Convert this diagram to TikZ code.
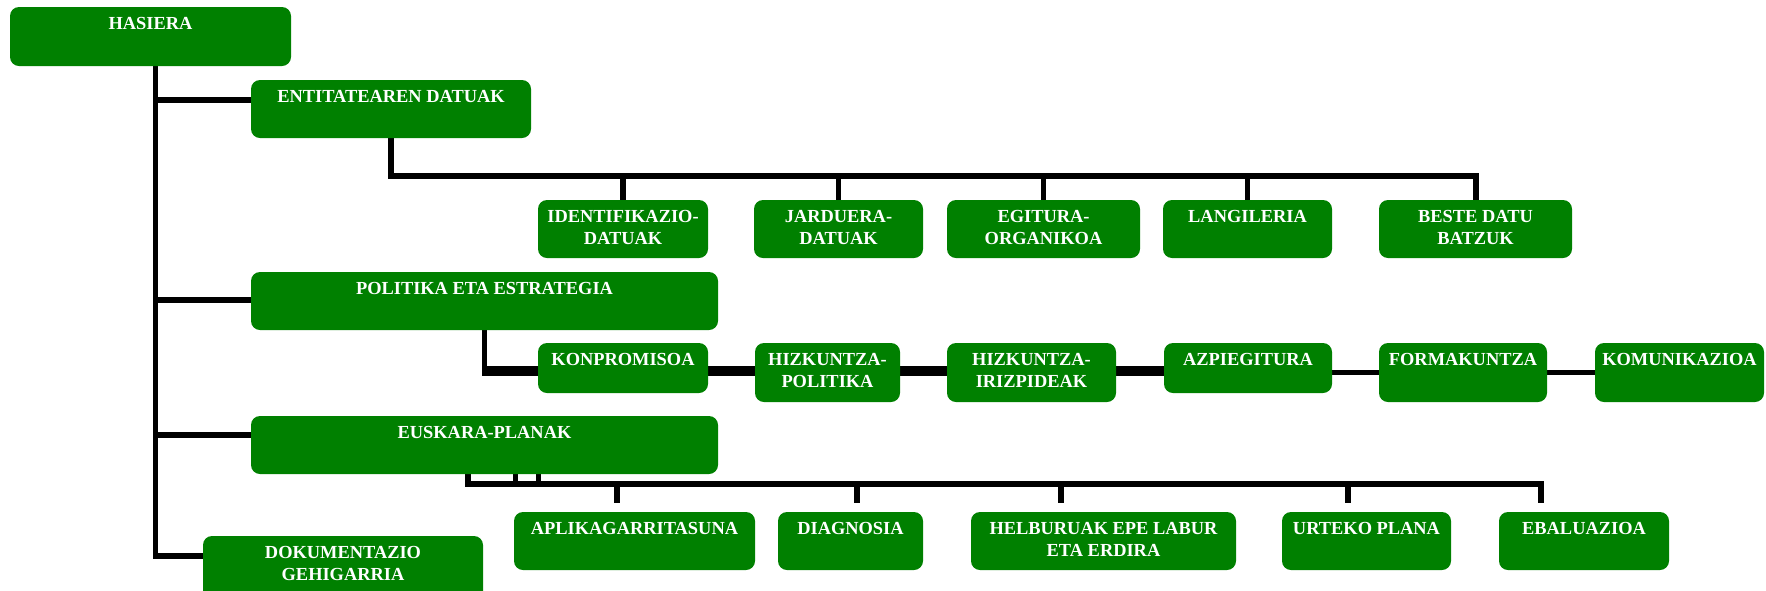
\documentclass[tikz,border=0pt]{standalone}
\usepackage{fontspec}
\setmainfont{Liberation Serif}
\usetikzlibrary{fit,backgrounds}
\definecolor{boxgreen}{RGB}{0,128,0}
\newcommand\mkbox[6]{%
  \node[box, fit={(#2,#3) (#4,#5)}] (#1) {};
  \node[lbl] (#1t) at ([yshift=-5pt]#1.north) {#6};}
\begin{document}
\begin{tikzpicture}[x=0.5pt,y=-0.5pt,
  box/.style={rectangle, draw=none, fill=boxgreen, rounded corners=4.5pt, inner sep=0pt},
  lbl/.style={text=white, font=\bfseries\fontsize{9.2}{11}\selectfont, align=center, inner sep=0pt, anchor=north},
  conn/.style={draw=black, line width=2.6pt, line join=miter}
]
\useasboundingbox (0,0) rectangle (1766,590);

\mkbox{hasiera}{10}{7}{291}{66}{HASIERA}
\mkbox{ent}{251}{80}{531}{138}{ENTITATEAREN DATUAK}
\mkbox{ident}{538}{200}{708}{258}{IDENTIFIKAZIO-\\DATUAK}
\mkbox{jard}{754}{200}{923}{258}{JARDUERA-\\DATUAK}
\mkbox{egit}{947}{200}{1140}{258}{EGITURA-\\ORGANIKOA}
\mkbox{lang}{1163}{200}{1332}{258}{LANGILERIA}
\mkbox{beste}{1379}{200}{1572}{258}{BESTE DATU\\BATZUK}
\mkbox{pol}{251}{272}{718}{330}{POLITIKA ETA ESTRATEGIA}
\mkbox{konp}{538}{343}{708}{393}{KONPROMISOA}
\mkbox{hizpol}{755}{343}{900}{402}{HIZKUNTZA-\\POLITIKA}
\mkbox{hiziriz}{947}{343}{1116}{402}{HIZKUNTZA-\\IRIZPIDEAK}
\mkbox{azp}{1164}{343}{1332}{393}{AZPIEGITURA}
\mkbox{form}{1379}{343}{1547}{402}{FORMAKUNTZA}
\mkbox{kom}{1595}{343}{1764}{402}{KOMUNIKAZIOA}
\mkbox{eus}{251}{416}{718}{474}{EUSKARA-PLANAK}
\mkbox{aplik}{514}{512}{755}{570}{APLIKAGARRITASUNA}
\mkbox{diag}{778}{512}{923}{570}{DIAGNOSIA}
\mkbox{helb}{971}{512}{1236}{570}{HELBURUAK EPE LABUR\\ETA ERDIRA}
\mkbox{urt}{1282}{512}{1451}{570}{URTEKO PLANA}
\mkbox{ebal}{1499}{512}{1669}{570}{EBALUAZIOA}
\mkbox{doku}{203}{536}{483}{600}{DOKUMENTAZIO\\GEHIGARRIA}

\begin{pgfonlayer}{background}
\coordinate (tr) at (155.5,0);
\draw[conn] (hasiera.south -| tr) |- (doku.west |- 0,556);
\draw[conn] (tr |- 0,100) -- (ent.west |- 0,100);
\draw[conn] (tr |- 0,300) -- (pol.west |- 0,300);
\draw[conn] (tr |- 0,435) -- (eus.west |- 0,435);
% entitatearen datuak
\draw[conn, line width=3pt] (ent.south) |- (beste.north |- 0,176) -- (beste.north);
\foreach \n in {ident,jard,egit,lang}
  \draw[conn] (\n.north |- 0,176) -- (\n.north);
% politika
\draw[conn] (pol.south) -- (pol.south |- 0,376);
\draw[conn, line width=5pt] ([xshift=-1.25pt]pol.south |- 0,371) -- (azp.west |- 0,371);
\draw[conn] (azp.east |- 0,372.5) -- (kom.west |- 0,372.5);
% euskara-planak
\coordinate (ebalend) at (1541,503);
\draw[conn, line width=3pt] (eus.south -| 467.5,0) |- (ebalend |- 0,484) -- (ebalend);
\foreach \x in {515.5,538.5}
  \draw[conn] (eus.south -| \x,0) -- (\x,484);
\foreach \x/\n in {617/aplik,857/diag,1061/helb,1348/urt}
  \draw[conn] (\x,484) -- ([yshift=4.5pt]\n.north -| \x,0);
\end{pgfonlayer}
\end{tikzpicture}
\end{document}
